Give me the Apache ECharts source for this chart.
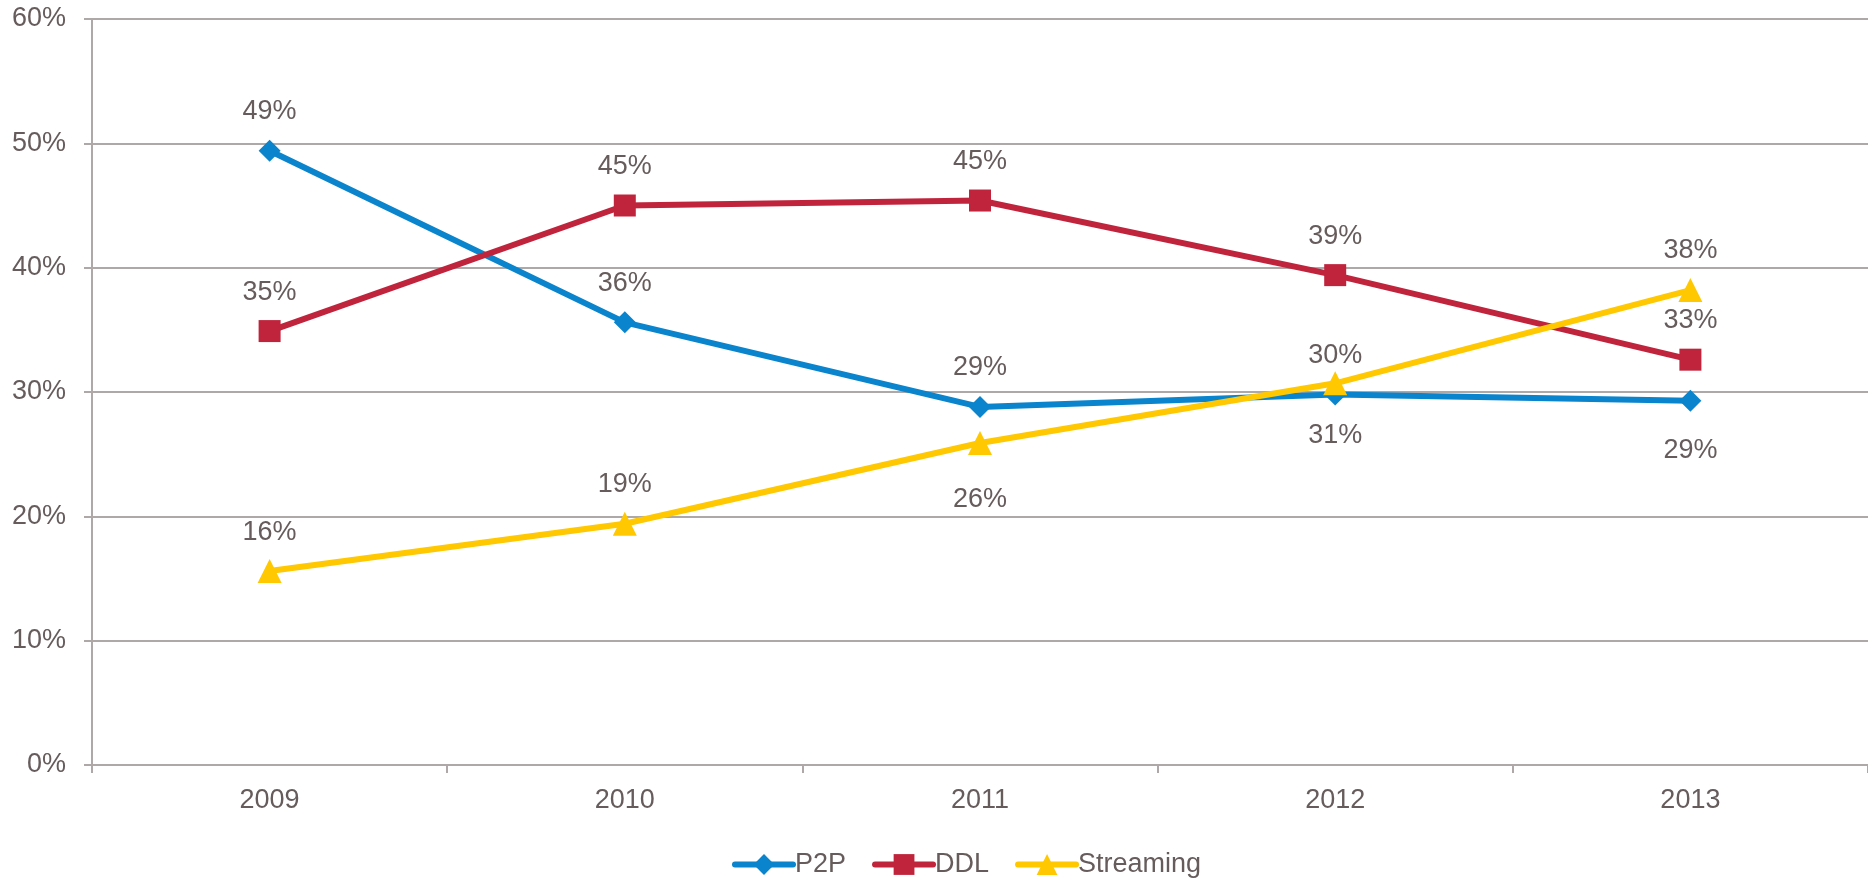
<!DOCTYPE html>
<html>
<head>
<meta charset="utf-8">
<script src="https://cdn.jsdelivr.net/npm/echarts@6/dist/echarts.min.js"></script>
<style>
  html, body { margin: 0; padding: 0; background: #fff; }
  #main { width: 1868px; height: 878px; }
</style>
</head>
<body>
<div id="main"></div>
<script>
const years = ["2009", "2010", "2011", "2012", "2013"];
const p2p = [49.4, 35.6, 28.8, 29.8, 29.3];
const ddl = [34.9, 45.0, 45.4, 39.4, 32.6];
const streaming = [15.6, 19.4, 25.9, 30.7, 38.2];

// label offsets (px from point centre), above = negative
const p2pLabelDy = [-39, -39, -39, -39, 50];
const ddlLabelDy = [-39, -39, -39, -39, -39];
const streamingLabelDy = [-38, -39, 57, 52, -39];

const textColor = "#675c5c";
const gridColor = "#aea8a8";
const font = "Liberation Sans, Arial, sans-serif";

const chart = echarts.init(document.getElementById("main"));

function makeSeries(name, values, dys, color, symbol, size) {
    return {
        name: name,
        type: "line",
        data: values.map((v, i) => ({
            value: v,
            label: { offset: [0, dys[i]] }
        })),
        symbol: symbol,
        symbolSize: size,
        showAllSymbol: true,
        lineStyle: { color: color, width: 6 },
        itemStyle: { color: color },
        label: {
            show: true,
            position: "inside",
            color: textColor,
            fontSize: 27,
            fontFamily: font,
            formatter: (p) => Math.round(p.value) + "%"
        },
        emphasis: { disabled: true },
        animation: false
    };
}

const option = {
    backgroundColor: "#fff",
    grid: { left: 92, right: 0, top: 19, bottom: 113 },
    legend: {
        left: 727,
        top: 846,
        itemWidth: 58,
        itemHeight: 26,
        itemGap: 26,
        lineStyle: { width: 6, cap: "round" },
        textStyle: { color: textColor, fontSize: 27, fontFamily: font, padding: [0, 0, 0, -3] },
        data: ["P2P", "DDL", "Streaming"]
    },
    xAxis: {
        type: "category",
        data: years,
        boundaryGap: true,
        axisLine: { lineStyle: { color: gridColor, width: 2 } },
        axisTick: { show: true, length: 8, lineStyle: { color: gridColor, width: 2 } },
        axisLabel: { color: textColor, fontSize: 27, fontFamily: font, margin: 22 }
    },
    yAxis: {
        type: "value",
        min: 0,
        max: 60,
        interval: 10,
        axisLine: { show: true, lineStyle: { color: gridColor, width: 2 } },
        axisTick: { show: true, length: 8, lineStyle: { color: gridColor, width: 2 } },
        axisLabel: { color: textColor, fontSize: 27, fontFamily: font, margin: 26, formatter: "{value}%" },
        splitLine: { lineStyle: { color: gridColor, width: 2 } }
    },
    series: [
        makeSeries("P2P", p2p, p2pLabelDy, "#0a84cc", "diamond", 22),
        makeSeries("DDL", ddl, ddlLabelDy, "#c0243c", "rect", 22),
        makeSeries("Streaming", streaming, streamingLabelDy, "#ffc800", "triangle", 24)
    ]
};

chart.setOption(option);
</script>
</body>
</html>
